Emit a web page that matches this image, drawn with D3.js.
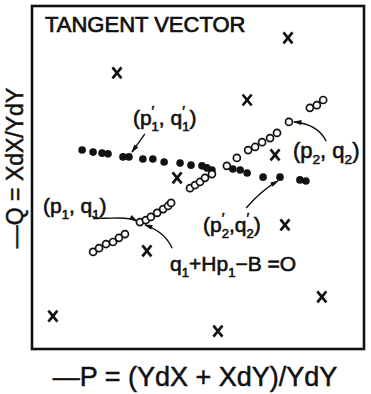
<!DOCTYPE html>
<html>
<head>
<meta charset="utf-8">
<script src="https://cdn.jsdelivr.net/npm/d3@7"></script>
<style>
  html, body { margin: 0; padding: 0; background: #fff; }
  svg { display: block; }
  text { font-family: "Liberation Sans", Arial, sans-serif; fill: #111; }
</style>
</head>
<body>
<svg id="chart" width="371" height="394"></svg>
<script>
// ---- data (abstract plane units, 0..100 on both axes) ----
// scattered reference points (crosses)
const crossX = [77.1, 25.6, 64.8, 43.7, 73.2, 76.2, 34.6, 87.3, 6.3, 56.0];
const crossY = [90.7, 80.5, 72.6, 49.9, 56.6, 36.2, 28.6, 15.2, 9.6, 5.2];

// tangent points (p', q') – filled dots
const filledX = [15.1, 18.4, 21.1, 22.9, 27.4, 29.2, 33.4, 36.4, 39.8, 44.6, 47.9,
                 51.2, 52.7, 54.2, 60.5, 62.7, 64.8, 69.6, 74.7, 80.7, 82.5];
const filledY = [58.0, 57.4, 57.1, 56.9, 56.0, 56.0, 55.4, 55.4, 54.5, 54.2, 53.6,
                 53.4, 52.8, 52.2, 52.5, 52.2, 51.3, 50.1, 50.1, 49.3, 49.0];

// upper trajectory (p2, q2) – open circles
const upperX = [47.6, 49.1, 50.6, 52.1, 54.2, 58.7, 61.7, 65.1, 67.2, 69.3, 71.7,
                73.8, 77.4, 83.7, 85.8, 87.7];
const upperY = [46.9, 47.8, 48.7, 49.9, 51.0, 53.4, 55.7, 58.0, 58.9, 60.3, 61.5,
                63.0, 66.2, 70.3, 71.1, 72.6];

// lower trajectory (p1, q1) – open circles
const lowerX = [18.4, 20.2, 22.3, 24.4, 26.2, 28.0, 32.5, 34.3, 35.8, 37.7, 39.5, 41.0, 41.9];
const lowerY = [28.3, 29.4, 30.6, 31.2, 32.4, 33.5, 37.0, 37.6, 38.5, 39.7, 40.8, 41.7, 42.6];

// annotation labels: anchor point of each
const labelNames = ["p1q1prime", "p2q2", "p2q2prime", "p1q1", "constraint"];
const labelX = [30.4, 78.6, 51.5, 3.3, 41.6];
const labelY = [65.3, 55.7, 34.1, 39.7, 22.7];

// leader lines: start, control(s), end
const leaders = [
  [[34.0, 62.7], [30.1, 57.4]],
  [[88.6, 60.6], [86.1, 65.6], [78.9, 66.2]],
  [[64.5, 41.1], [69.3, 46.4], [74.1, 49.0]],
  [[18.1, 38.8], [19.9, 37.0], [28.0, 39.4], [31.6, 37.3]],
  [[42.2, 29.4], [40.1, 34.1], [34.0, 36.2]]
];

const titleText = "TANGENT VECTOR";
const xLabel = "\u2014P = (YdX + XdY)/YdY";
const yLabel = "\u2014Q = XdX/YdY";

// ---- layout ----
const frame = { left: 32, top: 6, right: 364, bottom: 349 };
const svg = d3.select("#chart");

const x = d3.scaleLinear().domain([0, 100]).range([frame.left, frame.right]);
const y = d3.scaleLinear().domain([0, 100]).range([frame.bottom, frame.top]);

// frame
svg.append("rect")
  .attr("x", frame.left).attr("y", frame.top)
  .attr("width", frame.right - frame.left).attr("height", frame.bottom - frame.top)
  .attr("fill", "none").attr("stroke", "#111").attr("stroke-width", 2.6);

// title
svg.append("text")
  .attr("x", 45).attr("y", 32)
  .attr("font-size", 22)
  .attr("stroke", "#111").attr("stroke-width", 0.7)
  .text(titleText);

// axis labels
svg.append("text")
  .attr("x", 195).attr("y", 386)
  .attr("text-anchor", "middle")
  .attr("font-size", 27)
  .attr("stroke", "#111").attr("stroke-width", 0.5)
  .text(xLabel);

svg.append("text")
  .attr("transform", "translate(23,168) rotate(-90)")
  .attr("text-anchor", "middle")
  .attr("font-size", 23)
  .attr("stroke", "#111").attr("stroke-width", 0.5)
  .text(yLabel);

// arrow marker
svg.append("defs").append("marker")
  .attr("id", "arrow")
  .attr("viewBox", "0 0 10 6")
  .attr("refX", 9).attr("refY", 3)
  .attr("markerWidth", 9).attr("markerHeight", 5)
  .attr("markerUnits", "userSpaceOnUse")
  .attr("orient", "auto")
  .append("path").attr("d", "M0,0 L10,3 L0,6 Z").attr("fill", "#111");

// leader lines
function leaderPath(pts) {
  const p = pts.map(d => [x(d[0]), y(d[1])]);
  if (p.length === 2) return `M${p[0]}L${p[1]}`;
  if (p.length === 3) return `M${p[0]}Q${p[1]} ${p[2]}`;
  return `M${p[0]}C${p[1]} ${p[2]} ${p[3]}`;
}
svg.append("g").selectAll("path")
  .data(leaders)
  .join("path")
  .attr("d", leaderPath)
  .attr("fill", "none")
  .attr("stroke", "#111")
  .attr("stroke-width", 1.4)
  .attr("marker-end", "url(#arrow)");

// crosses
const crossG = svg.append("g");
crossX.forEach((cx, i) => {
  const px = x(cx), py = y(crossY[i]);
  crossG.append("path")
    .attr("d", `M${px - 4.5},${py - 5.5}L${px + 4.5},${py + 5.5}M${px + 4.5},${py - 5.5}L${px - 4.5},${py + 5.5}`)
    .attr("stroke", "#111").attr("stroke-width", 2.7).attr("fill", "none");
});

// filled dots
svg.append("g").selectAll("circle")
  .data(filledX.map((v, i) => [v, filledY[i]]))
  .join("circle")
  .attr("cx", d => x(d[0])).attr("cy", d => y(d[1]))
  .attr("r", 3.8).attr("fill", "#111");

// open circles
const openPts = upperX.map((v, i) => [v, upperY[i]])
  .concat(lowerX.map((v, i) => [v, lowerY[i]]));
svg.append("g").selectAll("circle")
  .data(openPts)
  .join("circle")
  .attr("cx", d => x(d[0])).attr("cy", d => y(d[1]))
  .attr("r", 3.5).attr("fill", "#fff")
  .attr("stroke", "#111").attr("stroke-width", 1.7);

// labels with primes and subscripts
const labelSegments = {
  p1q1prime: [{ t: "(p" }, { s: "1", prime: true }, { t: ", q" }, { s: "1", prime: true }, { t: ")" }],
  p2q2: [{ t: "(p" }, { s: "2" }, { t: ", q" }, { s: "2" }, { t: ")" }],
  p2q2prime: [{ t: "(p" }, { s: "2", prime: true }, { t: ",q" }, { s: "2", prime: true }, { t: ")" }],
  p1q1: [{ t: "(p" }, { s: "1" }, { t: ", q" }, { s: "1" }, { t: ")" }],
  constraint: [{ t: "q" }, { s: "1" }, { t: "+Hp" }, { s: "1" }, { t: "\u2212B =O" }]
};
const labelSize = { p1q1prime: 21, p2q2: 22, p2q2prime: 21, p1q1: 21, constraint: 21 };

labelNames.forEach((name, i) => {
  const fs = labelSize[name];
  const txt = svg.append("text")
    .attr("x", x(labelX[i])).attr("y", y(labelY[i]))
    .attr("font-size", fs)
    .attr("stroke", "#111").attr("stroke-width", 0.6);
  let cur = 0;
  labelSegments[name].forEach(seg => {
    if (seg.t !== undefined) {
      txt.append("tspan").attr("dy", 0 - cur).text(seg.t);
      cur = 0;
    } else {
      let back = 0;
      if (seg.prime) {
        const pr = txt.append("tspan")
          .attr("font-size", fs * 0.7)
          .attr("dy", -fs * 0.42 - cur)
          .text("\u2032");
        cur = -fs * 0.42;
        back = pr.node().getComputedTextLength();
      }
      txt.append("tspan")
        .attr("font-size", fs * 0.62)
        .attr("dx", -back)
        .attr("dy", fs * 0.28 - cur)
        .text(seg.s);
      cur = fs * 0.28;
    }
  });
});
</script>
</body>
</html>
